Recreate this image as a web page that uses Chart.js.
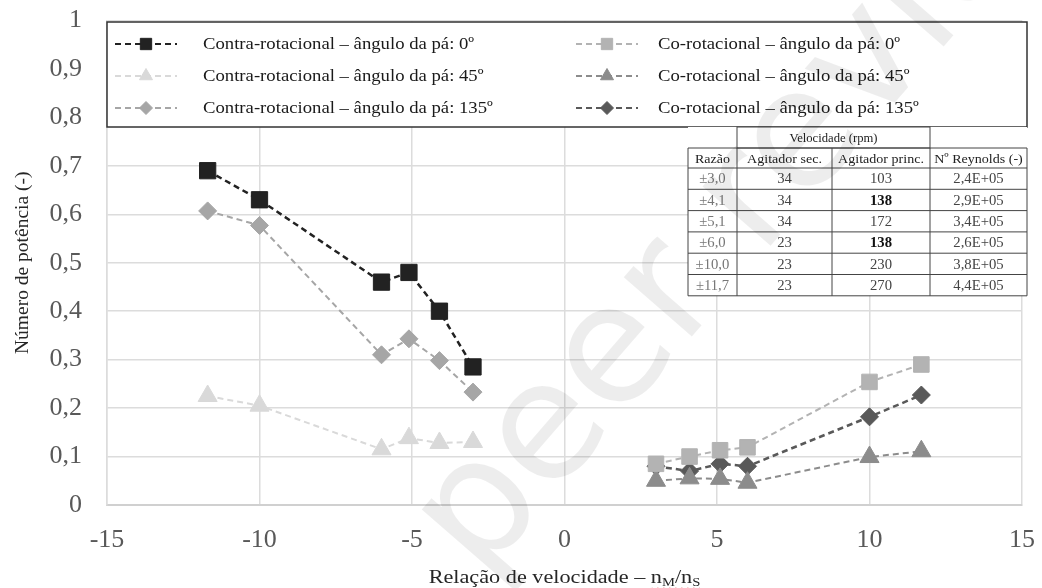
<!DOCTYPE html>
<html>
<head>
<meta charset="utf-8">
<script src="https://cdn.jsdelivr.net/npm/chart.js@4.4.1/dist/chart.umd.min.js"></script>
<style>
  html, body { margin: 0; padding: 0; background: #fff; }
</style>
</head>
<body>
<canvas id="myChart" width="1042" height="588"></canvas>
<script>
// razões de velocidade (eixo x)
let x_contra = [-11.7, -10, -6, -5.1, -4.1, -3.0];
let x_co = [3.0, 4.1, 5.1, 6.0, 10.0, 11.7];

// número de potência
let contra_0 = [0.69, 0.63, 0.46, 0.48, 0.40, 0.285];
let contra_45 = [0.225, 0.205, 0.115, 0.138, 0.128, 0.13];
let contra_135 = [0.607, 0.577, 0.31, 0.343, 0.298, 0.233];
let co_0 = [0.085, 0.1, 0.113, 0.119, 0.254, 0.29];
let co_45 = [0.05, 0.055, 0.054, 0.046, 0.099, 0.111];
let co_135 = [0.08, 0.07, 0.085, 0.08, 0.182, 0.227];

let labels = [
  "Contra-rotacional – ângulo da pá: 0º",
  "Contra-rotacional – ângulo da pá: 45º",
  "Contra-rotacional – ângulo da pá: 135º",
  "Co-rotacional – ângulo da pá: 0º",
  "Co-rotacional – ângulo da pá: 45º",
  "Co-rotacional – ângulo da pá: 135º",
];

let x_ticks = [-15, -10, -5, 0, 5, 10, 15];

// tabela de condições
let tab_razao = ["±3,0", "±4,1", "±5,1", "±6,0", "±10,0", "±11,7"];
let tab_sec = ["34", "34", "34", "23", "23", "23"];
let tab_princ = ["103", "138", "172", "138", "230", "270"];
let tab_reynolds = ["2,4E+05", "2,9E+05", "3,4E+05", "2,6E+05", "3,8E+05", "4,4E+05"];
let tab_negrito = [false, true, false, true, false, false];

const SERIF = '"Liberation Serif", "Times New Roman", serif';

function serie(label, xs, ys, cor, estilo, raio, largura) {
  return {
    label: label,
    data: xs.map((x, i) => ({ x: x, y: ys[i] })),
    borderColor: cor,
    backgroundColor: cor,
    pointBackgroundColor: cor,
    pointBorderColor: cor,
    pointBorderWidth: 1,
    pointStyle: estilo,
    pointRadius: raio,
    pointHoverRadius: raio,
    borderWidth: largura,
    borderDash: [6, 4],
    showLine: true,
    tension: 0,
  };
}

// texto um pouco esticado na horizontal, como na figura original
function texto(ctx, t, x, y, sx, alinhar) {
  let w = ctx.measureText(t).width * sx;
  if (alinhar == "center") x -= w / 2;
  ctx.save();
  ctx.translate(x, y);
  ctx.scale(sx, 1);
  ctx.textAlign = "left";
  ctx.fillText(t, 0, 0);
  ctx.restore();
  return w;
}

const legenda_raio = { rect: 8, rectRot: 6.5, triangle: 7.5 };

const caixaLegenda = {
  id: "caixaLegenda",
  afterDatasetsDraw(chart) {
    const ctx = chart.ctx;
    ctx.save();
    ctx.fillStyle = "#fff";
    ctx.fillRect(107, 22, 920, 105);
    ctx.strokeStyle = "#333";
    ctx.lineWidth = 1.5;
    ctx.strokeRect(107, 22, 920, 105);
    chart.data.datasets.forEach((ds, i) => {
      let col = Math.floor(i / 3);
      let row = i % 3;
      let x0 = col ? 576 : 115;
      let y = 44 + row * 32;
      ctx.setLineDash([6, 4]);
      ctx.strokeStyle = ds.borderColor;
      ctx.lineWidth = 2;
      ctx.beginPath();
      ctx.moveTo(x0, y);
      ctx.lineTo(x0 + 62, y);
      ctx.stroke();
      ctx.setLineDash([]);
      ctx.fillStyle = ds.backgroundColor;
      ctx.lineWidth = 1;
      Chart.helpers.drawPoint(ctx, { pointStyle: ds.pointStyle, radius: legenda_raio[ds.pointStyle], rotation: 0, borderWidth: 1 }, x0 + 31, y);
      ctx.fillStyle = "#1a1a1a";
      ctx.font = "17px " + SERIF;
      ctx.textBaseline = "middle";
      texto(ctx, ds.label, col ? 658 : 203, y + 1, 1.1, "left");
    });

    // tabela
    let cx = [688, 737, 832, 930, 1027];
    let ry = [127, 148, 168];
    for (let i = 1; i <= tab_razao.length; i++) ry.push(168 + i * 21.3);
    ctx.fillStyle = "#fff";
    ctx.fillRect(cx[0], ry[0], cx[4] - cx[0], ry[ry.length - 1] - ry[0]);
    ctx.strokeStyle = "#444";
    ctx.lineWidth = 1;
    ctx.strokeRect(cx[1], ry[0], cx[3] - cx[1], ry[1] - ry[0]);
    for (let r = 1; r < ry.length; r++) {
      ctx.beginPath();
      ctx.moveTo(cx[0], ry[r]);
      ctx.lineTo(cx[4], ry[r]);
      ctx.stroke();
    }
    cx.forEach((x) => {
      ctx.beginPath();
      ctx.moveTo(x, ry[1]);
      ctx.lineTo(x, ry[ry.length - 1]);
      ctx.stroke();
    });
    ctx.textAlign = "center";
    ctx.textBaseline = "middle";
    ctx.fillStyle = "#222";
    ctx.font = "11.5px " + SERIF;
    texto(ctx, "Velocidade (rpm)", (cx[1] + cx[3]) / 2, (ry[0] + ry[1]) / 2 + 1, 1.1, "center");
    ctx.font = "13.5px " + SERIF;
    let cab = ["Razão", "Agitador sec.", "Agitador princ.", "Nº Reynolds (-)"];
    cab.forEach((t, c) => texto(ctx, t, (cx[c] + cx[c + 1]) / 2, (ry[1] + ry[2]) / 2 + 1, 1.04, "center"));
    tab_razao.forEach((t, r) => {
      let yc = (ry[r + 2] + ry[r + 3]) / 2 + 1;
      ctx.font = "14px " + SERIF;
      ctx.fillStyle = "#777";
      texto(ctx, t, (cx[0] + cx[1]) / 2, yc, 1.05, "center");
      ctx.fillStyle = "#444";
      texto(ctx, tab_sec[r], (cx[1] + cx[2]) / 2, yc, 1.05, "center");
      ctx.font = (tab_negrito[r] ? "bold " : "") + "14px " + SERIF;
      ctx.fillStyle = tab_negrito[r] ? "#111" : "#444";
      texto(ctx, tab_princ[r], (cx[2] + cx[3]) / 2, yc, 1.05, "center");
      ctx.font = "14px " + SERIF;
      ctx.fillStyle = "#444";
      texto(ctx, tab_reynolds[r], (cx[3] + cx[4]) / 2, yc, 1.05, "center");
    });
    ctx.restore();
  },
  afterDraw(chart) {
    const ctx = chart.ctx;
    ctx.save();
    // título do eixo x com índices
    let partes = [["Relação de velocidade – n", 0], ["M", 1], ["/n", 0], ["S", 1]];
    let fonte = (s) => (s ? "12.5px " : "19px ") + SERIF;
    let sx = 1.17;
    let total = 0;
    partes.forEach((p) => {
      ctx.font = fonte(p[1]);
      total += ctx.measureText(p[0]).width * sx;
    });
    let x = (chart.chartArea.left + chart.chartArea.right) / 2 - total / 2;
    let yb = 583;
    ctx.fillStyle = "#262626";
    ctx.textBaseline = "alphabetic";
    let xsq = 0;
    partes.forEach((p, i) => {
      ctx.font = fonte(p[1]);
      if (i == 1) xsq = x - 10;
      x += texto(ctx, p[0], x, yb + (p[1] ? 3 : 0), sx, "left");
    });
    ctx.strokeStyle = "#e03030";
    ctx.lineWidth = 1;
    ctx.beginPath();
    for (let k = 0; xsq + k * 3 < x; k++) {
      let px = xsq + k * 3;
      let py = yb + 5 + (k % 2 ? 2 : 0);
      if (k == 0) ctx.moveTo(px, py);
      else ctx.lineTo(px, py);
    }
    ctx.stroke();

    // marca d'água
    ctx.translate(480, 580);
    ctx.rotate((-49 * Math.PI) / 180);
    ctx.font = '165px "DejaVu Sans"';
    ctx.fillStyle = "rgba(0,0,0,0.07)";
    ctx.fillText("peer review", 0, 0);
    ctx.restore();
  },
};

const ctx = document.getElementById("myChart");
const myChart = new Chart(ctx, {
  type: "scatter",
  data: {
    datasets: [
      serie(labels[0], x_contra, contra_0, "#222222", "rect", 11.5, 2.5),
      serie(labels[1], x_contra, contra_45, "#d9d9d9", "triangle", 11, 2),
      serie(labels[2], x_contra, contra_135, "#a6a6a6", "rectRot", 9, 2),
      serie(labels[3], x_co, co_0, "#b3b3b3", "rect", 11, 2),
      serie(labels[4], x_co, co_45, "#8c8c8c", "triangle", 11, 2),
      serie(labels[5], x_co, co_135, "#595959", "rectRot", 9, 2.5),
    ],
  },
  options: {
    responsive: false,
    animation: false,
    devicePixelRatio: 1,
    layout: { padding: { top: 20.5, right: 20, left: 0, bottom: 0 } },
    plugins: { legend: { display: false }, tooltip: { enabled: false } },
    scales: {
      x: {
        type: "linear",
        min: -15,
        max: 15,
        afterBuildTicks: (s) => {
          s.ticks = x_ticks.map((v) => ({ value: v }));
        },
        afterFit: (s) => {
          s.height = 83;
          s.paddingLeft = 0;
          s.paddingRight = 0;
        },
        grid: { color: "#dcdcdc", lineWidth: 1.5, drawTicks: false },
        border: { color: "#d0d0d0", width: 2 },
        ticks: {
          padding: 20,
          color: "#595959",
          font: { family: SERIF, size: 26 },
          callback: (v) => String(v),
        },
      },
      y: {
        min: 0,
        max: 1,
        afterFit: (s) => {
          s.width = 107;
          s.paddingTop = 0;
          s.paddingBottom = 0;
        },
        grid: { color: "#dcdcdc", lineWidth: 1.5, drawTicks: false },
        border: { color: "#dcdcdc", width: 1.5 },
        title: {
          display: true,
          text: "Número de potência (-)",
          color: "#262626",
          font: { family: SERIF, size: 19.5 },
          padding: { top: 11, bottom: 0 },
        },
        ticks: {
          stepSize: 0.1,
          padding: 25,
          color: "#595959",
          font: { family: SERIF, size: 26 },
          callback: (v) => (Math.round(v * 10) / 10).toString().replace(".", ","),
        },
      },
    },
  },
  plugins: [caixaLegenda],
});
</script>
</body>
</html>
